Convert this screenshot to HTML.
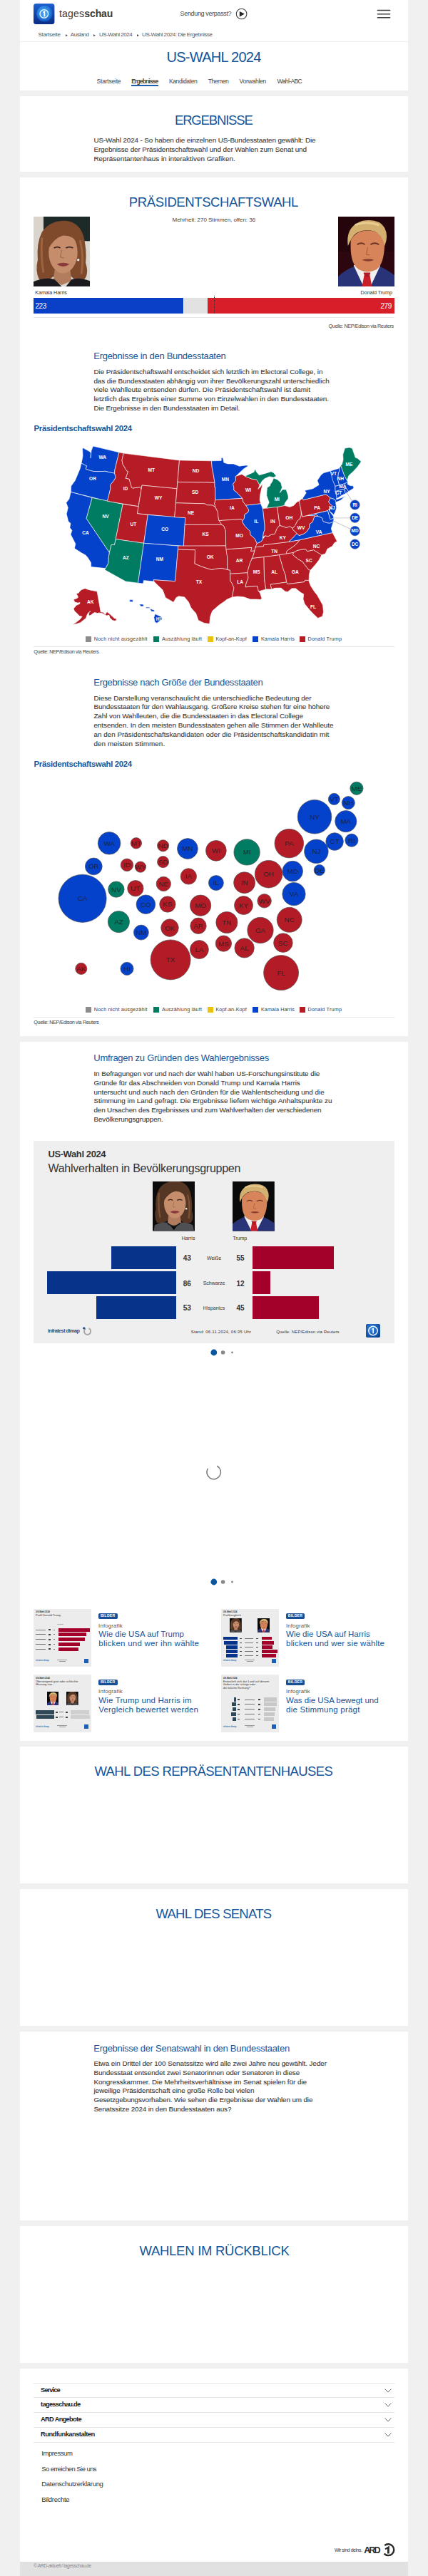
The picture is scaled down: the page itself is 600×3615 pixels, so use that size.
<!DOCTYPE html><html lang="de"><head><meta charset="utf-8"><title>US-Wahl 2024: Die Ergebnisse</title>
<style>html,body{margin:0;padding:0}body{width:600px;height:3615px;position:relative;overflow:hidden;background:#f0f0f0;font-family:"Liberation Sans",sans-serif}
.t{position:absolute;white-space:nowrap;line-height:1}.r{position:absolute}svg text{font-family:"Liberation Sans",sans-serif}</style></head><body>
<div class="r" style="left:28px;top:0px;width:544px;height:127px;background:#fff;"></div>
<div class="r" style="left:28px;top:135px;width:544px;height:106px;background:#fff;"></div>
<div class="r" style="left:28px;top:249px;width:544px;height:1205px;background:#fff;"></div>
<div class="r" style="left:28px;top:1462px;width:544px;height:981px;background:#fff;"></div>
<div class="r" style="left:28px;top:2451px;width:544px;height:192px;background:#fff;"></div>
<div class="r" style="left:28px;top:2651px;width:544px;height:192px;background:#fff;"></div>
<div class="r" style="left:28px;top:2851px;width:544px;height:265px;background:#fff;"></div>
<div class="r" style="left:28px;top:3124px;width:544px;height:192px;background:#fff;"></div>
<div class="r" style="left:28px;top:3324px;width:544px;height:271px;background:#fff;"></div>
<div class="r" style="left:28px;top:3595px;width:544px;height:20px;background:#e1e1e1;"></div>
<svg style="position:absolute;left:47.4px;top:5px" width="29.4" height="29" viewBox="0 0 29.4 29"><defs><linearGradient id="lg1" x1="0" y1="0" x2="0" y2="1"><stop offset="0" stop-color="#1d5fd0"/><stop offset="1" stop-color="#0a2c86"/></linearGradient><radialGradient id="rg1" cx="0.45" cy="0.4" r="0.6"><stop offset="0" stop-color="#4ab0f6"/><stop offset="0.6" stop-color="#2a82e0"/><stop offset="1" stop-color="#1552b8"/></radialGradient></defs><rect width="29.4" height="29" rx="3.6" fill="url(#lg1)"/><circle cx="15.5" cy="14.3" r="11.2" fill="url(#rg1)"/><circle cx="14.8" cy="14.4" r="5.8" fill="#3b9cf0" stroke="#f4f9ff" stroke-width="1.3"/><path d="M13.3,11.2 L16.3,10 L16.3,18.3 L14.4,18.3 L14.4,12.6 L13.1,13.1Z" fill="#fff"/></svg>
<div class="t" style="left:83.00px;top:12.15px;font-size:14px;color:#3a3a3a;letter-spacing:0.188px;">tages</div>
<div class="t" style="left:118.20px;top:12.15px;font-size:14px;color:#3a3a3a;font-weight:bold;letter-spacing:-0.066px;">schau</div>
<div class="t" style="left:252.60px;top:14.98px;font-size:9px;color:#4a4a4a;letter-spacing:-0.347px;">Sendung verpasst?</div>
<svg style="position:absolute;left:330px;top:11px" width="18" height="18" viewBox="0 0 18 18"><circle cx="8.6" cy="8.5" r="7.3" fill="none" stroke="#3a3a3a" stroke-width="1.05"/><path d="M5.8,4.9 L12.8,8.6 L5.8,12.4Z" fill="#222"/></svg>
<svg style="position:absolute;left:526px;top:10px" width="24" height="20" viewBox="0 0 24 20"><g stroke="#404040" stroke-width="1.5" stroke-linecap="round"><line x1="3.4" y1="4.5" x2="20.6" y2="4.5"/><line x1="3.4" y1="9.7" x2="20.6" y2="9.7"/><line x1="3.4" y1="14.8" x2="20.6" y2="14.8"/></g></svg>
<div class="t" style="left:53.40px;top:44.73px;font-size:8px;color:#555;letter-spacing:-0.244px;">Startseite</div>
<div class="t" style="left:98.80px;top:44.73px;font-size:8px;color:#555;letter-spacing:-0.469px;">Ausland</div>
<div class="t" style="left:138.90px;top:44.73px;font-size:8px;color:#555;letter-spacing:-0.439px;">US-Wahl 2024</div>
<div class="t" style="left:199.10px;top:44.73px;font-size:8px;color:#555;letter-spacing:-0.427px;">US-Wahl 2024: Die Ergebnisse</div>
<svg style="position:absolute;left:91.5px;top:47.9px" width="3" height="3.6" viewBox="0 0 3 3.6"><path d="M0,0 L2.8,1.8 L0,3.6Z" fill="#555"/></svg>
<svg style="position:absolute;left:131.3px;top:47.9px" width="3" height="3.6" viewBox="0 0 3 3.6"><path d="M0,0 L2.8,1.8 L0,3.6Z" fill="#555"/></svg>
<svg style="position:absolute;left:191.60000000000002px;top:47.9px" width="3" height="3.6" viewBox="0 0 3 3.6"><path d="M0,0 L2.8,1.8 L0,3.6Z" fill="#555"/></svg>
<div class="r" style="left:28px;top:58px;width:544px;height:1px;background:#eee;"></div>
<div class="t" style="left:233.50px;top:69.97px;font-size:20px;color:#14559b;letter-spacing:-0.727px;">US-WAHL 2024</div>
<div class="t" style="left:135.60px;top:109.62px;font-size:8.6px;color:#444;letter-spacing:-0.259px;">Startseite</div>
<div class="t" style="left:184.30px;top:109.62px;font-size:8.6px;color:#444;font-weight:bold;letter-spacing:-0.941px;">Ergebnisse</div>
<div class="t" style="left:236.90px;top:109.62px;font-size:8.6px;color:#444;letter-spacing:-0.391px;">Kandidaten</div>
<div class="t" style="left:291.80px;top:109.62px;font-size:8.6px;color:#444;letter-spacing:-0.510px;">Themen</div>
<div class="t" style="left:335.50px;top:109.62px;font-size:8.6px;color:#444;letter-spacing:-0.283px;">Vorwahlen</div>
<div class="t" style="left:388.50px;top:109.62px;font-size:8.6px;color:#444;letter-spacing:-0.646px;">Wahl-ABC</div>
<div class="r" style="left:184.3px;top:119.3px;width:37.89999999999998px;height:1.6px;background:#1f5fae;"></div>
<div class="t" style="left:245.00px;top:159.74px;font-size:18.5px;color:#14559b;letter-spacing:-1.166px;">ERGEBNISSE</div>
<div class="t" style="left:131.40px;top:191.72px;font-size:9.9px;color:#383838;letter-spacing:-0.112px;-webkit-text-stroke:0.1px #383838;">US-Wahl 2024 - So haben die einzelnen US-Bundesstaaten gewählt: Die</div>
<div class="t" style="left:131.40px;top:204.62px;font-size:9.9px;color:#383838;letter-spacing:-0.081px;-webkit-text-stroke:0.1px #383838;">Ergebnisse der Präsidentschaftswahl und der Wahlen zum Senat und</div>
<div class="t" style="left:131.40px;top:217.52px;font-size:9.9px;color:#383838;letter-spacing:0.005px;-webkit-text-stroke:0.1px #383838;">Repräsentantenhaus in interaktiven Grafiken.</div>
<div class="t" style="left:180.85px;top:274.54px;font-size:18.5px;color:#14559b;letter-spacing:-0.394px;">PRÄSIDENTSCHAFTSWAHL</div>
<div class="t" style="left:241.60px;top:304.93px;font-size:8px;color:#444;letter-spacing:-0.056px;">Mehrheit: 270 Stimmen, offen: 36</div>
<svg style="position:absolute;left:47px;top:304px" width="79" height="98" viewBox="0 0 80 100" preserveAspectRatio="none"><rect width="80" height="100" fill="#dcd9d2"/><rect x="14" y="0" width="66" height="35" fill="#1d2a28"/><rect x="0" y="0" width="14" height="100" fill="#d9d5cd"/><g transform="translate(0,0)">
<path d="M40,6 Q64,5 71,28 Q76,48 74,66 Q79,82 72,90 Q60,94 54,86 L28,86 Q18,94 8,90 Q2,78 6,62 Q4,38 12,22 Q22,7 40,6Z" fill="#7e4a2b"/>
<path d="M12,30 Q10,56 14,80 M66,34 Q72,56 68,82" stroke="#9c6440" stroke-width="3" fill="none"/>
<path d="M30,76 L52,76 L54,92 L40,98 L28,92Z" fill="#b27c5e"/></g>
<path d="M0,93 Q18,86 30,90 L40,100 L0,100Z" fill="#1a1a1e"/><path d="M80,92 Q64,86 54,90 L46,100 L80,100Z" fill="#1a1a1e"/><g transform="translate(0,0)">
<ellipse cx="42" cy="51" rx="20.5" ry="30" fill="#c68d6c"/>
<path d="M21,46 Q22,22 44,18 Q60,20 64,40 Q56,26 42,27 Q30,30 21,46Z" fill="#7e4a2b"/>
<path d="M29,45 Q34,42 38,45 M46,45 Q51,42 56,45" stroke="#3a2218" stroke-width="1.8" fill="none"/>
<path d="M40,48 L38,58 L43,59" stroke="#a06a50" stroke-width="1.2" fill="none"/>
<path d="M33,68 Q42,64 51,68 Q42,75 33,68Z" fill="#8a3a3a"/>
<circle cx="63.5" cy="62" r="1.7" fill="#eee"/></g>
</svg>
<svg style="position:absolute;left:474px;top:304px" width="79" height="98" viewBox="0 0 80 100" preserveAspectRatio="none"><rect width="80" height="100" fill="#2c0710"/><rect width="80" height="50" fill="#24050b"/>
<path d="M0,86 Q10,76 26,70 L40,80 L56,70 Q70,76 80,84 L80,100 L0,100Z" fill="#283477"/>
<path d="M22,70 L36,100 L46,100 L60,70 L52,66 L30,66Z" fill="#f0f0f0"/>
<path d="M37,84 L45,84 L48,100 L34,100Z" fill="#c81f2b"/><path d="M36,80 L46,80 L44,86 L38,86Z" fill="#b01a24"/>
<path d="M18,34 Q16,68 30,76 Q42,82 54,76 Q66,68 66,36 Q60,20 42,20 Q24,20 18,34Z" fill="#d8845a"/>
<path d="M14,42 Q10,14 34,6 Q58,2 66,16 Q72,28 66,42 Q62,22 46,20 Q28,18 20,30 Q16,36 14,42Z" fill="#d4b070"/>
<path d="M24,12 Q40,6 58,12" stroke="#e8cc90" stroke-width="3" fill="none"/>
<path d="M27,40 Q33,36 38,40 M46,40 Q52,36 58,40" stroke="#6a3422" stroke-width="1.8" fill="none"/>
<path d="M42,44 L40,54 L45,55" stroke="#b0603e" stroke-width="1.2" fill="none"/>
<path d="M34,62 Q43,59 51,62 Q43,66 34,62Z" fill="#8a4030"/>
</svg>
<div class="t" style="left:49.30px;top:406.71px;font-size:7.2px;color:#333;letter-spacing:-0.084px;">Kamala Harris</div>
<div class="t" style="left:505.60px;top:406.71px;font-size:7.2px;color:#333;letter-spacing:-0.075px;">Donald Trump</div>
<div class="r" style="left:47px;top:418px;width:209.7px;height:22px;background:#0a3fc8;"></div>
<div class="r" style="left:257.5px;top:418px;width:33px;height:22px;background:#e2e2e2;"></div>
<div class="r" style="left:290.6px;top:418px;width:262.4px;height:22px;background:#d81f29;"></div>
<div class="r" style="left:300px;top:415px;width:0;height:25px;border-left:1px dotted #333"></div>
<div class="t" style="left:49.60px;top:424.54px;font-size:10px;color:#fff;letter-spacing:-0.543px;">223</div>
<div class="t" style="left:533.50px;top:424.54px;font-size:10px;color:#fff;letter-spacing:-0.443px;">279</div>
<div class="r" style="left:47px;top:445px;width:506px;height:1px;background:#e8e8e8;"></div>
<div class="t" style="left:460.60px;top:454.01px;font-size:7.2px;color:#444;letter-spacing:-0.360px;">Quelle: NEP/Edison via Reuters</div>
<div class="t" style="left:131.30px;top:492.70px;font-size:13px;color:#14559b;letter-spacing:-0.297px;">Ergebnisse in den Bundesstaaten</div>
<div class="t" style="left:131.40px;top:516.82px;font-size:9.9px;color:#383838;letter-spacing:-0.037px;-webkit-text-stroke:0.1px #383838;">Die Präsidentschaftswahl entscheidet sich letztlich im Electoral College, in</div>
<div class="t" style="left:131.40px;top:529.52px;font-size:9.9px;color:#383838;letter-spacing:-0.055px;-webkit-text-stroke:0.1px #383838;">das die Bundesstaaten abhängig von ihrer Bevölkerungszahl unterschiedlich</div>
<div class="t" style="left:131.40px;top:542.22px;font-size:9.9px;color:#383838;letter-spacing:0.022px;-webkit-text-stroke:0.1px #383838;">viele Wahlleute entsenden dürfen. Die Präsidentschaftswahl ist damit</div>
<div class="t" style="left:131.40px;top:554.92px;font-size:9.9px;color:#383838;letter-spacing:-0.080px;-webkit-text-stroke:0.1px #383838;">letztlich das Ergebnis einer Summe von Einzelwahlen in den Bundesstaaten.</div>
<div class="t" style="left:131.40px;top:567.62px;font-size:9.9px;color:#383838;letter-spacing:-0.095px;-webkit-text-stroke:0.1px #383838;">Die Ergebnisse in den Bundesstaaten im Detail.</div>
<div class="t" style="left:47.60px;top:596.33px;font-size:11.3px;color:#14559b;font-weight:bold;letter-spacing:-0.286px;">Präsidentschaftswahl 2024</div>
<svg style="position:absolute;left:0;top:0" width="600" height="900" viewBox="0 0 600 900"><g stroke="#fff" stroke-width="0.6" stroke-linejoin="round"><path d="M116.2,628.4L125.0,633.3L127.4,635.6L127.0,642.8L128.0,632.6L130.4,626.0L166.9,634.8L160.8,659.9L160.6,664.2L146.6,661.2L145.1,661.5L135.7,661.7L130.7,661.4L125.3,660.0L120.1,658.1L121.5,653.8L118.3,652.3L114.0,650.0L115.4,643.6L116.0,639.6L115.6,630.1Z" fill="#0442cc"/><path d="M114.0,650.0L118.3,652.3L121.5,653.8L120.1,658.1L125.3,660.0L130.7,661.4L135.7,661.7L145.1,661.5L146.6,661.2L160.6,664.2L162.3,669.7L159.8,674.3L154.7,680.5L154.9,685.7L150.5,703.3L99.3,690.4L99.7,682.1L105.3,674.3L108.8,665.9L112.3,657.4Z" fill="#0442cc"/><path d="M99.3,690.4L129.2,698.5L121.1,727.6L153.4,775.4L152.3,782.3L151.9,790.4L148.0,797.6L127.7,795.6L127.5,789.7L123.2,782.7L119.9,778.9L114.6,776.1L104.4,769.6L105.8,763.2L99.1,750.1L100.9,744.3L97.9,740.4L98.9,734.4L95.7,731.4L93.2,721.3L95.3,712.4L92.8,705.4L96.9,700.3Z" fill="#0442cc"/><path d="M129.2,698.5L172.2,707.4L160.6,764.5L156.0,764.7L153.4,775.4L121.1,727.6Z" fill="#007c63"/><path d="M166.9,634.8L173.2,636.1L171.0,645.8L172.1,651.7L175.7,657.4L177.7,660.9L179.6,661.7L176.2,671.3L181.1,672.1L184.5,683.9L185.7,685.1L196.1,683.6L198.2,685.9L194.0,710.7L150.5,703.3L154.9,685.7L154.7,680.5L159.8,674.3L162.3,669.7L160.6,664.2L160.8,659.9Z" fill="#b51c25"/><path d="M173.2,636.1L251.5,645.9L248.1,685.8L199.0,681.0L198.2,685.9L196.1,683.6L185.7,685.1L184.5,683.9L181.1,672.1L176.2,671.3L179.6,661.7L177.7,660.9L175.7,657.4L172.1,651.7L171.0,645.8Z" fill="#b51c25"/><path d="M199.0,681.0L248.1,685.8L244.7,725.8L192.4,720.7Z" fill="#b51c25"/><path d="M172.2,707.4L194.0,710.7L192.4,720.7L207.3,722.5L201.6,762.3L162.2,756.6Z" fill="#b51c25"/><path d="M207.3,722.5L259.8,726.5L257.3,766.4L201.6,762.3Z" fill="#0442cc"/><path d="M162.2,756.6L201.6,762.3L193.5,818.2L176.2,816.0L146.7,799.6L148.0,797.6L151.9,790.4L152.3,782.3L153.4,775.4L156.0,764.7L160.6,764.5Z" fill="#007c63"/><path d="M201.6,762.3L249.7,766.1L249.4,771.1L245.6,815.7L215.2,813.7L215.9,816.0L201.4,814.6L200.8,819.0L193.5,818.2Z" fill="#0442cc"/><path d="M251.5,645.9L296.5,646.8L297.3,656.7L299.3,666.6L301.0,677.2L248.9,676.4Z" fill="#b51c25"/><path d="M248.9,676.4L301.0,677.2L301.0,683.6L301.8,683.6L301.9,701.6L300.8,706.6L301.9,711.7L297.8,709.0L290.5,708.8L286.9,706.8L246.4,705.8Z" fill="#b51c25"/><path d="M246.4,705.8L286.9,706.8L290.5,708.8L297.8,709.0L301.9,711.7L305.3,718.5L306.1,726.5L307.1,730.6L310.8,736.3L259.1,736.5L259.8,726.5L244.7,725.8Z" fill="#b51c25"/><path d="M259.1,736.5L310.8,736.3L313.9,738.2L316.4,745.1L316.7,766.0L257.4,766.4Z" fill="#b51c25"/><path d="M249.7,766.1L316.7,766.0L318.7,781.9L318.8,799.4L310.2,797.4L301.8,798.5L296.8,799.6L290.1,797.7L281.8,794.8L276.9,792.8L272.8,791.1L273.5,771.8L249.4,771.1Z" fill="#b51c25"/><path d="M249.4,771.1L273.5,771.8L272.8,791.1L276.9,792.8L281.8,794.8L290.1,797.7L296.8,799.6L301.8,798.5L310.2,797.4L318.8,799.4L322.5,800.1L322.6,805.3L323.0,815.5L325.1,818.2L328.0,825.0L326.5,832.0L325.5,837.9L317.9,841.3L315.3,843.4L306.5,849.6L297.5,857.6L294.7,865.5L293.7,875.2L296.0,875.7L286.3,874.4L278.1,870.5L274.7,860.7L267.8,852.9L264.5,845.0L258.7,837.9L250.8,836.7L247.1,838.5L243.1,845.2L239.7,843.1L232.0,838.7L229.9,832.7L227.8,827.6L219.8,820.1L215.9,816.0L215.2,813.7L245.6,815.7Z" fill="#b51c25"/><path d="M296.5,646.8L310.2,646.4L310.2,642.6L312.5,642.6L313.9,649.2L319.3,650.9L327.3,650.9L335.6,654.2L344.9,652.9L348.4,653.6L341.3,658.2L331.6,667.5L330.3,668.5L330.6,674.1L326.6,679.4L327.9,684.3L327.7,687.8L331.4,690.5L339.9,699.4L301.9,701.6L301.8,683.6L301.0,683.6L301.0,677.2L299.3,666.6L297.3,656.7Z" fill="#0442cc"/><path d="M301.9,701.6L339.9,699.4L340.9,704.3L344.6,709.0L348.8,715.6L347.9,718.7L342.9,722.2L342.4,727.3L340.2,730.7L338.0,728.6L307.1,730.6L306.1,726.5L305.3,718.5L301.9,711.7L300.8,706.6Z" fill="#b51c25"/><path d="M307.1,730.6L338.0,728.6L340.2,730.7L339.7,732.5L344.0,739.2L350.7,745.6L351.1,750.5L357.1,755.9L360.3,762.6L358.1,767.8L356.9,773.0L351.5,773.5L352.9,768.4L316.9,771.0L316.7,766.0L316.4,745.1L313.9,738.2L310.8,736.3Z" fill="#b51c25"/><path d="M316.9,771.0L352.9,768.4L351.5,773.5L356.9,773.0L354.3,782.2L350.7,789.5L348.0,798.7L346.9,803.8L322.6,805.3L322.5,800.1L318.8,799.4L318.7,781.9Z" fill="#b51c25"/><path d="M322.6,805.3L346.9,803.8L348.0,810.7L345.1,818.8L344.1,823.8L360.7,822.3L362.5,830.0L364.4,831.8L366.9,839.4L365.3,841.5L359.8,841.1L350.9,841.0L341.8,837.8L332.9,837.0L325.5,837.9L326.5,832.0L328.0,825.0L325.1,818.2L323.0,815.5Z" fill="#b51c25"/><path d="M370.0,781.5L352.8,783.4L354.3,782.2L350.7,789.5L348.0,798.7L346.9,803.8L348.0,810.7L345.1,818.8L344.1,823.8L360.7,822.3L362.5,830.0L372.8,826.9L370.5,812.3Z" fill="#b51c25"/><path d="M370.0,781.5L391.3,778.6L397.5,799.7L400.3,807.2L401.6,817.0L379.2,820.2L380.8,826.9L372.8,826.9L370.5,812.3Z" fill="#b51c25"/><path d="M391.3,778.6L411.7,775.2L410.5,778.5L417.4,784.3L424.0,788.1L431.9,798.6L434.9,800.5L433.4,806.3L433.1,814.4L427.7,814.4L426.4,816.7L403.2,819.7L401.6,817.0L400.3,807.2L397.5,799.7Z" fill="#b51c25"/><path d="M379.2,820.2L401.6,817.0L403.2,819.7L426.4,816.7L427.7,814.4L432.7,814.5L435.4,821.9L440.5,829.9L444.6,835.0L452.5,849.2L453.5,858.9L451.9,865.1L445.6,867.4L438.7,860.9L434.1,855.9L427.0,847.3L425.0,840.8L425.7,833.7L421.7,831.5L414.5,825.8L409.1,825.7L403.5,830.6L399.9,830.1L393.9,825.1L385.0,825.3L380.8,826.9Z" fill="#b51c25"/><path d="M411.7,775.2L417.0,772.2L428.5,770.5L430.7,773.6L439.6,771.7L450.9,778.7L446.9,786.3L442.1,792.4L437.8,797.3L434.9,800.5L431.9,798.6L424.0,788.1L417.4,784.3L410.5,778.5Z" fill="#b51c25"/><path d="M401.7,777.0L411.7,775.2L417.0,772.2L428.5,770.5L430.7,773.6L439.6,771.7L450.9,778.7L456.1,777.1L458.9,770.3L465.7,766.6L468.8,761.7L472.5,759.7L469.2,753.3L466.1,747.5L420.4,757.6L414.1,764.7L410.4,767.4L404.4,771.5L401.5,774.0Z" fill="#b51c25"/><path d="M352.8,783.4L370.0,781.5L391.3,778.6L401.7,777.0L401.5,774.0L404.4,771.5L410.4,767.4L414.1,764.7L420.4,757.6L404.5,760.4L369.4,764.7L369.7,766.5L358.1,767.8L356.9,773.0L354.3,782.2Z" fill="#b51c25"/><path d="M358.1,767.8L369.7,766.5L369.4,764.7L404.5,760.4L410.1,755.4L416.3,748.6L410.5,743.1L410.2,741.2L406.6,738.8L401.3,740.4L396.3,738.6L392.0,737.2L388.0,741.9L385.1,749.4L380.4,750.1L375.9,752.7L371.8,751.7L368.3,756.7L366.2,759.9L360.3,762.6Z" fill="#b51c25"/><path d="M404.5,760.4L420.4,757.6L466.1,747.5L464.3,741.8L465.9,736.8L467.5,731.9L462.7,734.0L459.4,733.8L453.2,731.8L451.7,727.1L447.6,725.0L445.9,724.2L440.8,724.6L438.1,732.4L433.9,735.4L433.7,740.5L429.6,746.5L425.3,749.4L419.2,751.6L416.3,748.6L410.1,755.4Z" fill="#0442cc"/><path d="M410.2,741.2L410.5,743.1L416.3,748.6L419.2,751.6L425.3,749.4L429.6,746.5L433.7,740.5L433.9,735.4L438.1,732.4L440.8,724.6L445.9,724.2L443.0,722.0L439.4,723.7L431.6,723.4L423.7,725.1L422.0,716.1L422.2,722.6L420.5,728.0L417.1,730.7L415.3,734.1L412.9,738.6Z" fill="#b51c25"/><path d="M419.5,703.0L422.0,716.1L422.2,722.6L420.5,728.0L417.1,730.7L415.3,734.1L412.9,738.6L410.2,741.2L406.6,738.8L401.3,740.4L396.3,738.6L392.0,737.2L388.5,711.5L398.4,709.5L401.9,710.2L406.0,711.5L411.7,709.4L416.1,704.5Z" fill="#b51c25"/><path d="M392.0,737.2L388.4,710.9L368.3,713.8L370.9,737.2L370.9,743.3L369.1,748.5L368.4,753.6L371.8,751.7L375.9,752.7L380.4,750.1L385.1,749.4L388.0,741.9Z" fill="#b51c25"/><path d="M368.3,713.8L365.5,706.7L344.6,709.0L348.8,715.6L347.9,718.7L342.9,722.2L342.4,727.3L340.2,730.7L339.7,732.5L344.0,739.2L350.7,745.6L351.1,750.5L357.1,755.9L360.3,762.6L366.2,759.9L368.3,756.7L368.4,753.6L369.1,748.5L370.9,743.3L370.9,737.2Z" fill="#0442cc"/><path d="M365.5,706.7L344.6,709.0L340.9,704.3L339.9,699.4L331.4,690.5L327.7,687.8L327.9,684.3L326.6,679.4L330.6,674.1L330.3,668.5L339.0,665.4L343.4,668.3L352.7,672.0L359.8,673.2L364.1,680.7L361.9,686.5L365.1,683.1L368.2,678.7L365.8,689.6L364.8,693.7L364.2,701.8Z" fill="#b51c25"/><path d="M388.5,711.5L398.4,709.5L399.7,705.6L404.0,699.7L404.0,695.7L401.1,687.1L396.0,687.0L392.3,691.7L395.5,684.0L393.7,677.3L388.8,673.0L383.5,670.9L382.0,675.2L379.0,679.7L378.6,681.7L374.6,684.3L373.9,690.5L373.8,695.5L377.2,705.1L373.6,713.1Z" fill="#007c63"/><path d="M343.4,668.3L352.7,672.0L359.8,673.2L364.1,680.7L367.1,675.3L370.9,671.8L377.6,668.8L383.3,669.9L387.3,668.2L383.9,663.8L380.1,661.8L373.4,663.9L363.3,666.8L359.4,662.2L357.6,657.9L356.0,662.6L349.4,665.4Z" fill="#007c63"/><path d="M419.5,703.0L423.7,725.1L459.3,716.7L461.1,715.0L463.7,712.6L466.2,709.9L462.2,706.8L460.7,704.1L463.2,698.8L459.2,695.3L456.8,693.8L425.0,701.6L424.4,699.0Z" fill="#b51c25"/><path d="M425.0,701.6L456.8,693.8L459.2,695.3L463.2,698.8L469.2,700.7L471.0,704.4L470.4,705.1L477.5,702.0L484.3,695.7L479.6,698.2L471.7,701.1L471.8,700.0L472.3,697.8L470.1,689.6L469.9,682.4L463.1,660.9L453.9,663.6L450.2,666.2L444.9,674.3L447.1,680.4L438.6,685.7L427.5,688.3L427.9,689.7L429.4,691.4L424.4,699.0Z" fill="#0442cc"/><path d="M463.1,660.9L475.7,657.1L476.3,659.1L474.3,664.9L473.6,672.5L475.6,680.9L469.9,682.4L466.6,674.5Z" fill="#0442cc"/><path d="M475.7,657.1L477.7,653.4L482.5,666.5L486.2,673.7L487.5,675.7L483.8,678.6L475.6,680.9L473.6,672.5L474.3,664.9L476.3,659.1Z" fill="#0442cc"/><path d="M477.7,653.4L479.3,651.9L481.1,645.0L480.7,637.8L483.5,629.0L489.7,627.9L493.7,629.1L498.3,642.2L501.3,643.2L506.3,647.7L501.3,654.9L495.8,661.0L488.8,667.6L486.9,673.5L486.2,673.7L482.5,666.5Z" fill="#007c63"/><path d="M470.1,689.6L482.3,686.2L485.3,685.3L488.6,689.7L492.1,687.5L496.0,685.1L495.0,681.8L491.0,681.6L487.2,679.6L487.5,675.7L483.8,678.6L475.6,680.9L469.9,682.4Z" fill="#0442cc"/><path d="M470.1,689.6L482.3,686.2L484.3,692.8L479.4,694.9L471.8,700.0L472.3,697.8Z" fill="#0442cc"/><path d="M482.3,686.2L485.3,685.3L488.6,689.7L484.3,692.8Z" fill="#0442cc"/><path d="M463.2,698.8L469.2,700.7L471.0,704.4L470.7,706.0L471.7,712.5L470.5,717.0L467.9,722.5L465.7,720.3L461.7,717.3L463.7,712.6L466.2,709.9L462.2,706.8L460.7,704.1Z" fill="#0442cc"/><path d="M459.3,716.7L461.1,715.0L461.7,717.3L467.1,724.1L468.0,727.5L463.0,728.8Z" fill="#0442cc"/><path d="M431.6,723.4L459.3,716.7L463.0,728.8L468.0,727.5L467.5,731.9L462.7,734.0L459.4,733.8L453.2,731.8L451.7,727.1L447.6,725.0L445.9,724.2L443.0,722.0L439.4,723.7Z" fill="#0442cc"/><path d="M136.1,830.0L141.2,858.9L144.5,859.3L147.6,862.2L150.0,858.6L154.3,862.0L160.7,868.0L162.5,867.7L163.4,870.4L160.8,871.3L157.8,870.6L153.9,866.8L152.9,863.1L149.7,863.9L143.5,860.8L139.0,859.9L136.7,860.6L132.6,859.4L129.6,861.3L127.3,863.3L124.4,864.0L124.8,859.2L127.1,857.6L123.3,860.5L121.7,863.7L120.5,867.5L116.4,870.8L112.7,873.7L107.1,875.6L103.3,876.3L100.8,877.2L106.5,873.6L112.3,868.9L115.1,865.3L111.1,864.3L108.3,861.0L104.8,857.9L103.8,856.1L103.2,853.7L105.5,851.6L106.3,849.8L111.6,847.4L112.1,845.5L109.0,846.1L104.8,845.0L103.2,841.3L108.2,839.5L109.5,837.8L107.8,834.6L106.9,833.3L110.1,832.2L111.6,829.9L114.1,827.7L119.1,825.7L123.8,827.4L127.0,828.2L131.5,829.1Z" fill="#b51c25"/><path d="M217.3,861.6L225.6,865.2L227.4,869.1L219.8,874.4L217.1,872.9L215.8,866.5Z" fill="#0442cc"/><path d="M210.0,854.1L216.4,856.2L216.4,858.2L212.2,858.1Z" fill="#0442cc"/><path d="M204.5,852.0L210.1,852.2L210.0,853.6L204.5,853.5Z" fill="#0442cc"/><path d="M195.4,847.9L200.9,848.0L201.3,851.0L197.2,850.9Z" fill="#0442cc"/><path d="M181.8,841.6L186.4,841.8L186.3,844.7L181.7,844.6Z" fill="#0442cc"/></g><line x1="484" y1="688" x2="493.5" y2="703" stroke="#999" stroke-width="0.6"/><circle cx="497.6" cy="708.5" r="6.8" fill="#0442cc" stroke="#8a8a8a" stroke-width="0.5"/><text x="497.6" y="710.8" font-size="6.4" font-weight="bold" fill="#fff" text-anchor="middle">RI</text><line x1="468.2" y1="727" x2="490.8" y2="726.8" stroke="#d0d0d0" stroke-width="1"/><circle cx="497.6" cy="726.8" r="6.8" fill="#0442cc" stroke="#8a8a8a" stroke-width="0.5"/><text x="497.6" y="729.0999999999999" font-size="6.4" font-weight="bold" fill="#fff" text-anchor="middle">DE</text><line x1="467" y1="730.9" x2="491.2" y2="742.3" stroke="#999" stroke-width="0.6"/><circle cx="497.6" cy="745.1" r="6.8" fill="#0442cc" stroke="#8a8a8a" stroke-width="0.5"/><text x="497.6" y="747.4" font-size="6.4" font-weight="bold" fill="#fff" text-anchor="middle">MD</text><circle cx="497.6" cy="763.6" r="6.8" fill="#0442cc" stroke="#8a8a8a" stroke-width="0.5"/><text x="497.6" y="765.9" font-size="6.4" font-weight="bold" fill="#fff" text-anchor="middle">DC</text><text x="143.7" y="643.6" font-size="6.6" font-weight="bold" fill="#fff" text-anchor="middle">WA</text><text x="130.0" y="674.1" font-size="6.6" font-weight="bold" fill="#fff" text-anchor="middle">OR</text><text x="176.0" y="688.1" font-size="6.6" font-weight="bold" fill="#fff" text-anchor="middle">ID</text><text x="148.0" y="727.0" font-size="6.6" font-weight="bold" fill="#fff" text-anchor="middle">NV</text><text x="119.9" y="749.8" font-size="6.6" font-weight="bold" fill="#fff" text-anchor="middle">CA</text><text x="186.8" y="738.2" font-size="6.6" font-weight="bold" fill="#fff" text-anchor="middle">UT</text><text x="212.2" y="662.2" font-size="6.6" font-weight="bold" fill="#fff" text-anchor="middle">MT</text><text x="274.6" y="662.9" font-size="6.6" font-weight="bold" fill="#fff" text-anchor="middle">ND</text><text x="316.0" y="675.1" font-size="6.6" font-weight="bold" fill="#fff" text-anchor="middle">MN</text><text x="273.6" y="692.7" font-size="6.6" font-weight="bold" fill="#fff" text-anchor="middle">SD</text><text x="222.0" y="701.4" font-size="6.6" font-weight="bold" fill="#fff" text-anchor="middle">WY</text><text x="267.6" y="721.8" font-size="6.6" font-weight="bold" fill="#fff" text-anchor="middle">NE</text><text x="325.4" y="714.7" font-size="6.6" font-weight="bold" fill="#fff" text-anchor="middle">IA</text><text x="231.2" y="745.4" font-size="6.6" font-weight="bold" fill="#fff" text-anchor="middle">CO</text><text x="288.2" y="751.9" font-size="6.6" font-weight="bold" fill="#fff" text-anchor="middle">KS</text><text x="348.0" y="689.9" font-size="6.6" font-weight="bold" fill="#fff" text-anchor="middle">WI</text><text x="388.3" y="703.2" font-size="6.6" font-weight="bold" fill="#fff" text-anchor="middle">MI</text><text x="458.2" y="691.6" font-size="6.6" font-weight="bold" fill="#fff" text-anchor="middle">NY</text><text x="444.7" y="715.2" font-size="6.6" font-weight="bold" fill="#fff" text-anchor="middle">PA</text><text x="359.3" y="733.7" font-size="6.6" font-weight="bold" fill="#fff" text-anchor="middle">IL</text><text x="382.4" y="734.0" font-size="6.6" font-weight="bold" fill="#fff" text-anchor="middle">IN</text><text x="405.2" y="728.8" font-size="6.6" font-weight="bold" fill="#fff" text-anchor="middle">OH</text><text x="422.0" y="742.9" font-size="6.6" font-weight="bold" fill="#fff" text-anchor="middle">WV</text><text x="447.1" y="748.7" font-size="6.6" font-weight="bold" fill="#fff" text-anchor="middle">VA</text><text x="396.4" y="756.5" font-size="6.6" font-weight="bold" fill="#fff" text-anchor="middle">KY</text><text x="335.6" y="753.7" font-size="6.6" font-weight="bold" fill="#fff" text-anchor="middle">MO</text><text x="465.5" y="715.4" font-size="6.6" font-weight="bold" fill="#fff" text-anchor="middle">NJ</text><text x="489.4" y="653.5" font-size="6.6" font-weight="bold" fill="#fff" text-anchor="middle">ME</text><text x="467.9" y="667.1" font-size="6.6" font-weight="bold" fill="#fff" text-anchor="middle">VT</text><text x="477.2" y="674.1" font-size="6.6" font-weight="bold" fill="#fff" text-anchor="middle">NH</text><text x="480.3" y="685.1" font-size="6.6" font-weight="bold" fill="#fff" text-anchor="middle">MA</text><text x="474.9" y="694.4" font-size="6.6" font-weight="bold" fill="#fff" text-anchor="middle">CT</text><text x="443.6" y="768.6" font-size="6.6" font-weight="bold" fill="#fff" text-anchor="middle">NC</text><text x="384.7" y="775.6" font-size="6.6" font-weight="bold" fill="#fff" text-anchor="middle">TN</text><text x="433.1" y="788.9" font-size="6.6" font-weight="bold" fill="#fff" text-anchor="middle">SC</text><text x="384.7" y="805.4" font-size="6.6" font-weight="bold" fill="#fff" text-anchor="middle">AL</text><text x="413.8" y="805.4" font-size="6.6" font-weight="bold" fill="#fff" text-anchor="middle">GA</text><text x="439.0" y="853.8" font-size="6.6" font-weight="bold" fill="#fff" text-anchor="middle">FL</text><text x="294.6" y="784.3" font-size="6.6" font-weight="bold" fill="#fff" text-anchor="middle">OK</text><text x="335.4" y="788.6" font-size="6.6" font-weight="bold" fill="#fff" text-anchor="middle">AR</text><text x="223.8" y="786.8" font-size="6.6" font-weight="bold" fill="#fff" text-anchor="middle">NM</text><text x="279.0" y="819.3" font-size="6.6" font-weight="bold" fill="#fff" text-anchor="middle">TX</text><text x="359.8" y="805.4" font-size="6.6" font-weight="bold" fill="#fff" text-anchor="middle">MS</text><text x="336.7" y="819.3" font-size="6.6" font-weight="bold" fill="#fff" text-anchor="middle">LA</text><text x="176.4" y="785.2" font-size="6.6" font-weight="bold" fill="#fff" text-anchor="middle">AZ</text><text x="126.7" y="846.5" font-size="6.6" font-weight="bold" fill="#fff" text-anchor="middle">AK</text><text x="222.0" y="871.3" font-size="6.6" font-weight="bold" fill="#fff" text-anchor="middle">HI</text></svg>
<div class="r" style="left:120.3px;top:893.1px;width:7.8px;height:7.6px;background:#8c8c8c;"></div>
<div class="t" style="left:131.80px;top:892.61px;font-size:7.2px;color:#444;letter-spacing:0.193px;">Noch nicht ausgezählt</div>
<div class="r" style="left:215.4px;top:893.1px;width:7.8px;height:7.6px;background:#007c63;"></div>
<div class="t" style="left:226.90px;top:892.61px;font-size:7.2px;color:#444;letter-spacing:0.191px;">Auszählung läuft</div>
<div class="r" style="left:291px;top:893.1px;width:7.8px;height:7.6px;background:#eac20a;"></div>
<div class="t" style="left:302.50px;top:892.61px;font-size:7.2px;color:#444;letter-spacing:0.070px;">Kopf-an-Kopf</div>
<div class="r" style="left:354.4px;top:893.1px;width:7.8px;height:7.6px;background:#0442cc;"></div>
<div class="t" style="left:365.90px;top:892.61px;font-size:7.2px;color:#444;letter-spacing:0.124px;">Kamala Harris</div>
<div class="r" style="left:420px;top:893.1px;width:7.8px;height:7.6px;background:#b51c25;"></div>
<div class="t" style="left:431.50px;top:892.61px;font-size:7.2px;color:#444;letter-spacing:0.207px;">Donald Trump</div>
<div class="r" style="left:47px;top:907px;width:506px;height:1px;background:#e8e8e8;"></div>
<div class="t" style="left:47.30px;top:911.21px;font-size:7.2px;color:#444;letter-spacing:-0.353px;">Quelle: NEP/Edison via Reuters</div>
<div class="t" style="left:131.30px;top:951.00px;font-size:13px;color:#14559b;letter-spacing:-0.335px;">Ergebnisse nach Größe der Bundesstaaten</div>
<div class="t" style="left:131.40px;top:974.52px;font-size:9.9px;color:#383838;letter-spacing:-0.025px;-webkit-text-stroke:0.1px #383838;">Diese Darstellung veranschaulicht die unterschiedliche Bedeutung der</div>
<div class="t" style="left:131.40px;top:987.32px;font-size:9.9px;color:#383838;letter-spacing:-0.082px;-webkit-text-stroke:0.1px #383838;">Bundesstaaten für den Wahlausgang. Größere Kreise stehen für eine höhere</div>
<div class="t" style="left:131.40px;top:1000.12px;font-size:9.9px;color:#383838;letter-spacing:-0.088px;-webkit-text-stroke:0.1px #383838;">Zahl von Wahlleuten, die die Bundesstaaten in das Electoral College</div>
<div class="t" style="left:131.40px;top:1012.92px;font-size:9.9px;color:#383838;letter-spacing:-0.031px;-webkit-text-stroke:0.1px #383838;">entsenden. In den meisten Bundesstaaten gehen alle Stimmen der Wahlleute</div>
<div class="t" style="left:131.40px;top:1025.72px;font-size:9.9px;color:#383838;letter-spacing:0.007px;-webkit-text-stroke:0.1px #383838;">an den Präsidentschaftskandidaten oder die Präsidentschaftskandidatin mit</div>
<div class="t" style="left:131.40px;top:1038.52px;font-size:9.9px;color:#383838;letter-spacing:0.079px;-webkit-text-stroke:0.1px #383838;">den meisten Stimmen.</div>
<div class="t" style="left:47.60px;top:1066.73px;font-size:11.3px;color:#14559b;font-weight:bold;letter-spacing:-0.286px;">Präsidentschaftswahl 2024</div>
<svg style="position:absolute;left:0;top:0" width="600" height="1450" viewBox="0 0 600 1450"><circle cx="153.1" cy="1183.3" r="15.8" fill="#0442cc" stroke="#555" stroke-width="0.7"/><circle cx="190.9" cy="1183.3" r="7.7" fill="#b31c26" stroke="#555" stroke-width="0.7"/><circle cx="131.3" cy="1215.9" r="11.9" fill="#0442cc" stroke="#555" stroke-width="0.7"/><circle cx="178" cy="1213.8" r="8.8" fill="#b31c26" stroke="#555" stroke-width="0.7"/><circle cx="196.9" cy="1216.6" r="7.7" fill="#b31c26" stroke="#555" stroke-width="0.7"/><circle cx="115.6" cy="1260.8" r="33.6" fill="#0442cc" stroke="#555" stroke-width="0.7"/><circle cx="162.9" cy="1248.1" r="11.2" fill="#007c63" stroke="#555" stroke-width="0.7"/><circle cx="189.9" cy="1246.7" r="11.2" fill="#b31c26" stroke="#555" stroke-width="0.7"/><circle cx="204.4" cy="1269.2" r="13.3" fill="#0442cc" stroke="#555" stroke-width="0.7"/><circle cx="166.4" cy="1293.6" r="15.1" fill="#007c63" stroke="#555" stroke-width="0.7"/><circle cx="228.6" cy="1186.8" r="8.1" fill="#b31c26" stroke="#555" stroke-width="0.7"/><circle cx="228.6" cy="1209.6" r="8.1" fill="#b31c26" stroke="#555" stroke-width="0.7"/><circle cx="262.9" cy="1191" r="14.4" fill="#0442cc" stroke="#555" stroke-width="0.7"/><circle cx="302.9" cy="1193.8" r="14.4" fill="#b31c26" stroke="#555" stroke-width="0.7"/><circle cx="229.3" cy="1240.4" r="10.2" fill="#b31c26" stroke="#555" stroke-width="0.7"/><circle cx="264.3" cy="1229.9" r="11.2" fill="#b31c26" stroke="#555" stroke-width="0.7"/><circle cx="302.9" cy="1239" r="10.5" fill="#0442cc" stroke="#555" stroke-width="0.7"/><circle cx="234.9" cy="1269" r="11.2" fill="#b31c26" stroke="#555" stroke-width="0.7"/><circle cx="281.1" cy="1270.7" r="14.7" fill="#b31c26" stroke="#555" stroke-width="0.7"/><circle cx="317.9" cy="1294.5" r="15.1" fill="#b31c26" stroke="#555" stroke-width="0.7"/><circle cx="278" cy="1299.3" r="11.2" fill="#b31c26" stroke="#555" stroke-width="0.7"/><circle cx="238" cy="1302.1" r="12.3" fill="#b31c26" stroke="#555" stroke-width="0.7"/><circle cx="197.9" cy="1308.6" r="10.5" fill="#0442cc" stroke="#555" stroke-width="0.7"/><circle cx="113.8" cy="1359.4" r="8.1" fill="#b31c26" stroke="#555" stroke-width="0.7"/><circle cx="178" cy="1359.4" r="9.1" fill="#0442cc" stroke="#555" stroke-width="0.7"/><circle cx="239.1" cy="1346.9" r="28" fill="#b31c26" stroke="#555" stroke-width="0.7"/><circle cx="279.4" cy="1332.6" r="13" fill="#b31c26" stroke="#555" stroke-width="0.7"/><circle cx="313.4" cy="1324.1" r="11.2" fill="#b31c26" stroke="#555" stroke-width="0.7"/><circle cx="346.1" cy="1195.9" r="18.2" fill="#007c63" stroke="#555" stroke-width="0.7"/><circle cx="405.3" cy="1183.6" r="20.3" fill="#b31c26" stroke="#555" stroke-width="0.7"/><circle cx="441" cy="1146.2" r="23.8" fill="#0442cc" stroke="#555" stroke-width="0.7"/><circle cx="443.4" cy="1194.8" r="16.8" fill="#0442cc" stroke="#555" stroke-width="0.7"/><circle cx="447.8" cy="1221.1" r="7.7" fill="#0442cc" stroke="#555" stroke-width="0.7"/><circle cx="410.2" cy="1222.6" r="14.3" fill="#0442cc" stroke="#555" stroke-width="0.7"/><circle cx="376.6" cy="1226.7" r="19.3" fill="#b31c26" stroke="#555" stroke-width="0.7"/><circle cx="342.6" cy="1238.7" r="15" fill="#b31c26" stroke="#555" stroke-width="0.7"/><circle cx="412" cy="1254.6" r="16.2" fill="#0442cc" stroke="#555" stroke-width="0.7"/><circle cx="370.6" cy="1264.3" r="9.8" fill="#b31c26" stroke="#555" stroke-width="0.7"/><circle cx="341.5" cy="1270.5" r="13" fill="#b31c26" stroke="#555" stroke-width="0.7"/><circle cx="405.7" cy="1290.8" r="17.5" fill="#b31c26" stroke="#555" stroke-width="0.7"/><circle cx="365" cy="1305.5" r="18.2" fill="#b31c26" stroke="#555" stroke-width="0.7"/><circle cx="396.9" cy="1323.1" r="13.3" fill="#b31c26" stroke="#555" stroke-width="0.7"/><circle cx="342.6" cy="1330.4" r="13.7" fill="#b31c26" stroke="#555" stroke-width="0.7"/><circle cx="394.1" cy="1365.1" r="24.5" fill="#b31c26" stroke="#555" stroke-width="0.7"/><circle cx="499.9" cy="1106.3" r="9.1" fill="#007c63" stroke="#555" stroke-width="0.7"/><circle cx="468.4" cy="1121.4" r="8.1" fill="#0442cc" stroke="#555" stroke-width="0.7"/><circle cx="488.3" cy="1126.6" r="9.1" fill="#0442cc" stroke="#555" stroke-width="0.7"/><circle cx="484.8" cy="1152.6" r="15.1" fill="#0442cc" stroke="#555" stroke-width="0.7"/><circle cx="469.1" cy="1181" r="12.3" fill="#0442cc" stroke="#555" stroke-width="0.7"/><circle cx="492.9" cy="1179.2" r="9.1" fill="#0442cc" stroke="#555" stroke-width="0.7"/><text x="153.1" y="1186.7" font-size="9.8" fill="#1e1e1e" fill-opacity="0.88" text-anchor="middle">WA</text><text x="190.9" y="1186.7" font-size="9.8" fill="#1e1e1e" fill-opacity="0.88" text-anchor="middle">MT</text><text x="131.3" y="1219.3" font-size="9.8" fill="#1e1e1e" fill-opacity="0.88" text-anchor="middle">OR</text><text x="178" y="1217.2" font-size="9.8" fill="#1e1e1e" fill-opacity="0.88" text-anchor="middle">ID</text><text x="196.9" y="1220.0" font-size="9.8" fill="#1e1e1e" fill-opacity="0.88" text-anchor="middle">WY</text><text x="115.6" y="1264.2" font-size="9.8" fill="#1e1e1e" fill-opacity="0.88" text-anchor="middle">CA</text><text x="162.9" y="1251.5" font-size="9.8" fill="#1e1e1e" fill-opacity="0.88" text-anchor="middle">NV</text><text x="189.9" y="1250.1" font-size="9.8" fill="#1e1e1e" fill-opacity="0.88" text-anchor="middle">UT</text><text x="204.4" y="1272.6" font-size="9.8" fill="#1e1e1e" fill-opacity="0.88" text-anchor="middle">CO</text><text x="166.4" y="1297.0" font-size="9.8" fill="#1e1e1e" fill-opacity="0.88" text-anchor="middle">AZ</text><text x="228.6" y="1190.2" font-size="9.8" fill="#1e1e1e" fill-opacity="0.88" text-anchor="middle">ND</text><text x="228.6" y="1213.0" font-size="9.8" fill="#1e1e1e" fill-opacity="0.88" text-anchor="middle">SD</text><text x="262.9" y="1194.4" font-size="9.8" fill="#1e1e1e" fill-opacity="0.88" text-anchor="middle">MN</text><text x="302.9" y="1197.2" font-size="9.8" fill="#1e1e1e" fill-opacity="0.88" text-anchor="middle">WI</text><text x="229.3" y="1243.8" font-size="9.8" fill="#1e1e1e" fill-opacity="0.88" text-anchor="middle">NE</text><text x="264.3" y="1233.3" font-size="9.8" fill="#1e1e1e" fill-opacity="0.88" text-anchor="middle">IA</text><text x="302.9" y="1242.4" font-size="9.8" fill="#1e1e1e" fill-opacity="0.88" text-anchor="middle">IL</text><text x="234.9" y="1272.4" font-size="9.8" fill="#1e1e1e" fill-opacity="0.88" text-anchor="middle">KS</text><text x="281.1" y="1274.1" font-size="9.8" fill="#1e1e1e" fill-opacity="0.88" text-anchor="middle">MO</text><text x="317.9" y="1297.9" font-size="9.8" fill="#1e1e1e" fill-opacity="0.88" text-anchor="middle">TN</text><text x="278" y="1302.7" font-size="9.8" fill="#1e1e1e" fill-opacity="0.88" text-anchor="middle">AR</text><text x="238" y="1305.5" font-size="9.8" fill="#1e1e1e" fill-opacity="0.88" text-anchor="middle">OK</text><text x="197.9" y="1312.0" font-size="9.8" fill="#1e1e1e" fill-opacity="0.88" text-anchor="middle">NM</text><text x="113.8" y="1362.8" font-size="9.8" fill="#1e1e1e" fill-opacity="0.88" text-anchor="middle">AK</text><text x="178" y="1362.8" font-size="9.8" fill="#1e1e1e" fill-opacity="0.88" text-anchor="middle">HI</text><text x="239.1" y="1350.3" font-size="9.8" fill="#1e1e1e" fill-opacity="0.88" text-anchor="middle">TX</text><text x="279.4" y="1336.0" font-size="9.8" fill="#1e1e1e" fill-opacity="0.88" text-anchor="middle">LA</text><text x="313.4" y="1327.5" font-size="9.8" fill="#1e1e1e" fill-opacity="0.88" text-anchor="middle">MS</text><text x="346.1" y="1199.3" font-size="9.8" fill="#1e1e1e" fill-opacity="0.88" text-anchor="middle">MI</text><text x="405.3" y="1187.0" font-size="9.8" fill="#1e1e1e" fill-opacity="0.88" text-anchor="middle">PA</text><text x="441" y="1149.6" font-size="9.8" fill="#1e1e1e" fill-opacity="0.88" text-anchor="middle">NY</text><text x="443.4" y="1198.2" font-size="9.8" fill="#1e1e1e" fill-opacity="0.88" text-anchor="middle">NJ</text><text x="447.8" y="1224.5" font-size="9.8" fill="#1e1e1e" fill-opacity="0.88" text-anchor="middle">DE</text><text x="410.2" y="1226.0" font-size="9.8" fill="#1e1e1e" fill-opacity="0.88" text-anchor="middle">MD</text><text x="376.6" y="1230.1" font-size="9.8" fill="#1e1e1e" fill-opacity="0.88" text-anchor="middle">OH</text><text x="342.6" y="1242.1" font-size="9.8" fill="#1e1e1e" fill-opacity="0.88" text-anchor="middle">IN</text><text x="412" y="1258.0" font-size="9.8" fill="#1e1e1e" fill-opacity="0.88" text-anchor="middle">VA</text><text x="370.6" y="1267.7" font-size="9.8" fill="#1e1e1e" fill-opacity="0.88" text-anchor="middle">WV</text><text x="341.5" y="1273.9" font-size="9.8" fill="#1e1e1e" fill-opacity="0.88" text-anchor="middle">KY</text><text x="405.7" y="1294.2" font-size="9.8" fill="#1e1e1e" fill-opacity="0.88" text-anchor="middle">NC</text><text x="365" y="1308.9" font-size="9.8" fill="#1e1e1e" fill-opacity="0.88" text-anchor="middle">GA</text><text x="396.9" y="1326.5" font-size="9.8" fill="#1e1e1e" fill-opacity="0.88" text-anchor="middle">SC</text><text x="342.6" y="1333.8" font-size="9.8" fill="#1e1e1e" fill-opacity="0.88" text-anchor="middle">AL</text><text x="394.1" y="1368.5" font-size="9.8" fill="#1e1e1e" fill-opacity="0.88" text-anchor="middle">FL</text><text x="499.9" y="1109.7" font-size="9.8" fill="#1e1e1e" fill-opacity="0.88" text-anchor="middle">ME</text><text x="468.4" y="1124.8" font-size="9.8" fill="#1e1e1e" fill-opacity="0.88" text-anchor="middle">VT</text><text x="488.3" y="1130.0" font-size="9.8" fill="#1e1e1e" fill-opacity="0.88" text-anchor="middle">NH</text><text x="484.8" y="1156.0" font-size="9.8" fill="#1e1e1e" fill-opacity="0.88" text-anchor="middle">MA</text><text x="469.1" y="1184.4" font-size="9.8" fill="#1e1e1e" fill-opacity="0.88" text-anchor="middle">CT</text><text x="492.9" y="1182.6" font-size="9.8" fill="#1e1e1e" fill-opacity="0.88" text-anchor="middle">RI</text></svg>
<div class="r" style="left:120.3px;top:1413.1999999999998px;width:7.8px;height:7.6px;background:#8c8c8c;"></div>
<div class="t" style="left:131.80px;top:1412.71px;font-size:7.2px;color:#444;letter-spacing:0.193px;">Noch nicht ausgezählt</div>
<div class="r" style="left:215.4px;top:1413.1999999999998px;width:7.8px;height:7.6px;background:#007c63;"></div>
<div class="t" style="left:226.90px;top:1412.71px;font-size:7.2px;color:#444;letter-spacing:0.191px;">Auszählung läuft</div>
<div class="r" style="left:291px;top:1413.1999999999998px;width:7.8px;height:7.6px;background:#eac20a;"></div>
<div class="t" style="left:302.50px;top:1412.71px;font-size:7.2px;color:#444;letter-spacing:0.070px;">Kopf-an-Kopf</div>
<div class="r" style="left:354.4px;top:1413.1999999999998px;width:7.8px;height:7.6px;background:#0442cc;"></div>
<div class="t" style="left:365.90px;top:1412.71px;font-size:7.2px;color:#444;letter-spacing:0.124px;">Kamala Harris</div>
<div class="r" style="left:420px;top:1413.1999999999998px;width:7.8px;height:7.6px;background:#b51c25;"></div>
<div class="t" style="left:431.50px;top:1412.71px;font-size:7.2px;color:#444;letter-spacing:0.207px;">Donald Trump</div>
<div class="r" style="left:47px;top:1427px;width:506px;height:1px;background:#e8e8e8;"></div>
<div class="t" style="left:47.30px;top:1431.11px;font-size:7.2px;color:#444;letter-spacing:-0.353px;">Quelle: NEP/Edison via Reuters</div>
<div class="t" style="left:131.30px;top:1478.00px;font-size:13px;color:#14559b;letter-spacing:-0.264px;">Umfragen zu Gründen des Wahlergebnisses</div>
<div class="t" style="left:131.40px;top:1502.02px;font-size:9.9px;color:#383838;letter-spacing:-0.057px;-webkit-text-stroke:0.1px #383838;">In Befragungen vor und nach der Wahl haben US-Forschungsinstitute die</div>
<div class="t" style="left:131.40px;top:1514.82px;font-size:9.9px;color:#383838;letter-spacing:-0.063px;-webkit-text-stroke:0.1px #383838;">Gründe für das Abschneiden von Donald Trump und Kamala Harris</div>
<div class="t" style="left:131.40px;top:1527.62px;font-size:9.9px;color:#383838;letter-spacing:0.006px;-webkit-text-stroke:0.1px #383838;">untersucht und auch nach den Gründen für die Wahlentscheidung und die</div>
<div class="t" style="left:131.40px;top:1540.42px;font-size:9.9px;color:#383838;letter-spacing:-0.003px;-webkit-text-stroke:0.1px #383838;">Stimmung im Land gefragt. Die Ergebnisse liefern wichtige Anhaltspunkte zu</div>
<div class="t" style="left:131.40px;top:1553.22px;font-size:9.9px;color:#383838;letter-spacing:-0.122px;-webkit-text-stroke:0.1px #383838;">den Ursachen des Ergebnisses und zum Wahlverhalten der verschiedenen</div>
<div class="t" style="left:131.40px;top:1566.02px;font-size:9.9px;color:#383838;letter-spacing:-0.077px;-webkit-text-stroke:0.1px #383838;">Bevölkerungsgruppen.</div>
<div class="r" style="left:47px;top:1601px;width:506px;height:283.5px;background:#efefef;"></div>
<div class="t" style="left:67.40px;top:1613.20px;font-size:13px;color:#333;font-weight:bold;letter-spacing:-0.390px;">US-Wahl 2024</div>
<div class="t" style="left:67.40px;top:1632.36px;font-size:16px;color:#333;letter-spacing:-0.248px;">Wahlverhalten in Bevölkerungsgruppen</div>
<svg style="position:absolute;left:214px;top:1658px" width="59.4" height="69.6" viewBox="0 0 80 100" preserveAspectRatio="none"><rect width="80" height="100" fill="#0c0c0c"/><g transform="translate(0,-7)">
<path d="M40,6 Q64,5 71,28 Q76,48 74,66 Q79,82 72,90 Q60,94 54,86 L28,86 Q18,94 8,90 Q2,78 6,62 Q4,38 12,22 Q22,7 40,6Z" fill="#553624"/>
<path d="M12,30 Q10,56 14,80 M66,34 Q72,56 68,82" stroke="#7a5236" stroke-width="3" fill="none"/>
<path d="M30,76 L52,76 L54,92 L40,98 L28,92Z" fill="#b27c5e"/></g>
<path d="M2,100 L4,88 Q20,80 30,84 L40,98 L50,84 Q60,80 76,88 L78,100Z" fill="#4e5054"/><path d="M28,84 Q40,96 52,84" stroke="#1a1a1a" stroke-width="2.5" fill="none"/><g transform="translate(0,-7)">
<ellipse cx="42" cy="51" rx="20.5" ry="30" fill="#c68d6c"/>
<path d="M21,46 Q22,22 44,18 Q60,20 64,40 Q56,26 42,27 Q30,30 21,46Z" fill="#553624"/>
<path d="M29,45 Q34,42 38,45 M46,45 Q51,42 56,45" stroke="#3a2218" stroke-width="1.8" fill="none"/>
<path d="M40,48 L38,58 L43,59" stroke="#a06a50" stroke-width="1.2" fill="none"/>
<path d="M33,68 Q42,64 51,68 Q42,75 33,68Z" fill="#8a3a3a"/>
<circle cx="63.5" cy="62" r="1.7" fill="#eee"/></g>
</svg>
<svg style="position:absolute;left:326.2px;top:1658px" width="58.8" height="69.6" viewBox="0 0 80 100" preserveAspectRatio="none"><rect width="80" height="100" fill="#0a0a0a"/>
<path d="M0,86 Q10,76 26,70 L40,80 L56,70 Q70,76 80,84 L80,100 L0,100Z" fill="#283477"/>
<path d="M22,70 L36,100 L46,100 L60,70 L52,66 L30,66Z" fill="#f0f0f0"/>
<path d="M37,84 L45,84 L48,100 L34,100Z" fill="#c81f2b"/><path d="M36,80 L46,80 L44,86 L38,86Z" fill="#b01a24"/>
<path d="M18,34 Q16,68 30,76 Q42,82 54,76 Q66,68 66,36 Q60,20 42,20 Q24,20 18,34Z" fill="#d8845a"/>
<path d="M14,42 Q10,14 34,6 Q58,2 66,16 Q72,28 66,42 Q62,22 46,20 Q28,18 20,30 Q16,36 14,42Z" fill="#d4b070"/>
<path d="M24,12 Q40,6 58,12" stroke="#e8cc90" stroke-width="3" fill="none"/>
<path d="M27,40 Q33,36 38,40 M46,40 Q52,36 58,40" stroke="#6a3422" stroke-width="1.8" fill="none"/>
<path d="M42,44 L40,54 L45,55" stroke="#b0603e" stroke-width="1.2" fill="none"/>
<path d="M34,62 Q43,59 51,62 Q43,66 34,62Z" fill="#8a4030"/>
</svg>
<div class="t" style="left:254.73px;top:1734.07px;font-size:7px;color:#333;">Harris</div>
<div class="t" style="left:326.20px;top:1734.07px;font-size:7px;color:#333;">Trump</div>
<div class="r" style="left:156.3px;top:1749px;width:90.3px;height:31.7px;background:#07348a;"></div>
<div class="r" style="left:353.6px;top:1749px;width:114.4px;height:31.7px;background:#a3002a;"></div>
<div class="t" style="left:256.74px;top:1761.34px;font-size:10px;color:#333;font-weight:bold;">43</div>
<div class="t" style="left:289.95px;top:1762.07px;font-size:7px;color:#333;">Weiße</div>
<div class="t" style="left:331.44px;top:1761.34px;font-size:10px;color:#333;font-weight:bold;">55</div>
<div class="r" style="left:66.0px;top:1784.3px;width:180.6px;height:31.7px;background:#07348a;"></div>
<div class="r" style="left:353.6px;top:1784.3px;width:24.96px;height:31.7px;background:#a3002a;"></div>
<div class="t" style="left:256.74px;top:1796.63px;font-size:10px;color:#333;font-weight:bold;">86</div>
<div class="t" style="left:284.63px;top:1797.37px;font-size:7px;color:#333;">Schwarze</div>
<div class="t" style="left:331.44px;top:1796.63px;font-size:10px;color:#333;font-weight:bold;">12</div>
<div class="r" style="left:135.29999999999998px;top:1819px;width:111.30000000000001px;height:31.7px;background:#07348a;"></div>
<div class="r" style="left:353.6px;top:1819px;width:93.60000000000001px;height:31.7px;background:#a3002a;"></div>
<div class="t" style="left:256.74px;top:1831.34px;font-size:10px;color:#333;font-weight:bold;">53</div>
<div class="t" style="left:284.83px;top:1832.07px;font-size:7px;color:#333;">Hispanics</div>
<div class="t" style="left:331.44px;top:1831.34px;font-size:10px;color:#333;font-weight:bold;">45</div>
<div class="t" style="left:67.00px;top:1863.71px;font-size:7.2px;color:#1d4d85;font-weight:bold;letter-spacing:-0.479px;">infratest dimap</div>
<svg style="position:absolute;left:115px;top:1862px" width="14" height="13" viewBox="0 0 14 13"><path d="M5.2,2.4 A4.6,4.6 0 1 0 9.6,2.2" stroke="#a8a8a8" stroke-width="2" fill="none"/><rect x="1.2" y="0.6" width="3" height="2.6" fill="#1d4d85"/></svg>
<div class="t" style="left:267.70px;top:1865.92px;font-size:6px;color:#333;letter-spacing:0.223px;">Stand: 06.11.2024, 06:35 Uhr</div>
<div class="t" style="left:387.30px;top:1865.92px;font-size:6px;color:#333;letter-spacing:0.109px;">Quelle: NEP/Edison via Reuters</div>
<div class="r" style="left:513px;top:1858px;width:20px;height:19px;border-radius:2px;background:radial-gradient(circle at 40% 35%,#3d8ce0 0%,#1c5fb8 45%,#0b3a86 100%)"><svg width="20" height="19" viewBox="0 0 20 19" style="position:absolute;left:0;top:0"><circle cx="10" cy="9.5" r="6.2" fill="none" stroke="#e8f2ff" stroke-width="1.5"/><path d="M8.6,6.4 L11,5.5 L11,13.3 L9.4,13.3 L9.4,7.6 L8.2,8.1Z" fill="#fff"/></svg></div>
<svg style="position:absolute;left:290px;top:1891.6px" width="40" height="12" viewBox="0 0 40 12"><circle cx="9.8" cy="6" r="4.4" fill="#0b57a0"/><circle cx="22.6" cy="6" r="2.8" fill="#888"/><circle cx="35.5" cy="6" r="1.4" fill="#888"/></svg>
<svg style="position:absolute;left:285px;top:2051px" width="30" height="30" viewBox="0 0 30 30"><circle cx="14.7" cy="14.9" r="9.8" fill="none" stroke="#777" stroke-width="1.5" stroke-linecap="round" stroke-dasharray="45.3 16.3" transform="rotate(-59 14.7 14.9)"/></svg>
<svg style="position:absolute;left:290px;top:2214.3px" width="40" height="12" viewBox="0 0 40 12"><circle cx="9.8" cy="6" r="4.4" fill="#0b57a0"/><circle cx="22.6" cy="6" r="2.8" fill="#888"/><circle cx="35.5" cy="6" r="1.4" fill="#888"/></svg>
<div class="r" style="left:47px;top:2257.6px;width:81px;height:81px;background:#ececec;"></div>
<div class="t" style="left:50.00px;top:2261.06px;font-size:3px;color:#333;font-weight:bold;">US-Wahl 2024</div>
<div class="t" style="left:50.00px;top:2264.71px;font-size:4px;color:#333;">Profil Donald Trump</div>
<div class="t" style="left:50.00px;top:2330.40px;font-size:2.6px;color:#2a6fb0;font-weight:bold;">infratest dimap</div>
<div class="r" style="left:118px;top:2327.6px;width:6px;height:6px;background:#1c5fb8;"></div>
<div class="r" style="left:80px;top:2328.6px;width:14px;height:1px;background:#999;"></div>
<div class="r" style="left:83px;top:2330.6px;width:9px;height:1px;background:#999;"></div>
<div class="t" style="left:80.00px;top:2279.48px;font-size:2.5px;color:#555;">Im 2024</div>
<div class="r" style="left:81.5px;top:2284.5px;width:44.3px;height:5px;background:#a3002a;"></div>
<div class="r" style="left:50px;top:2286.5px;width:14px;height:1px;background:#777;"></div>
<div class="r" style="left:68px;top:2286.0px;width:3px;height:2px;background:#444;"></div>
<div class="r" style="left:74.5px;top:2286.5px;width:2px;height:1px;background:#777;"></div>
<div class="r" style="left:81.5px;top:2291.35px;width:39.2px;height:5px;background:#a3002a;"></div>
<div class="r" style="left:50px;top:2293.35px;width:14px;height:1px;background:#777;"></div>
<div class="r" style="left:68px;top:2292.85px;width:3px;height:2px;background:#444;"></div>
<div class="r" style="left:74.5px;top:2293.35px;width:2px;height:1px;background:#777;"></div>
<div class="r" style="left:81.5px;top:2298.2px;width:37px;height:5px;background:#a3002a;"></div>
<div class="r" style="left:50px;top:2300.2px;width:14px;height:1px;background:#777;"></div>
<div class="r" style="left:68px;top:2299.7px;width:3px;height:2px;background:#444;"></div>
<div class="r" style="left:74.5px;top:2300.2px;width:2px;height:1px;background:#777;"></div>
<div class="r" style="left:81.5px;top:2305.05px;width:30.8px;height:5px;background:#a3002a;"></div>
<div class="r" style="left:50px;top:2307.05px;width:14px;height:1px;background:#777;"></div>
<div class="r" style="left:68px;top:2306.55px;width:3px;height:2px;background:#444;"></div>
<div class="r" style="left:74.5px;top:2307.05px;width:2px;height:1px;background:#777;"></div>
<div class="r" style="left:81.5px;top:2311.9px;width:28.5px;height:5px;background:#a3002a;"></div>
<div class="r" style="left:50px;top:2313.9px;width:14px;height:1px;background:#777;"></div>
<div class="r" style="left:68px;top:2313.4px;width:3px;height:2px;background:#444;"></div>
<div class="r" style="left:74.5px;top:2313.9px;width:2px;height:1px;background:#777;"></div>
<div class="r" style="left:138.1px;top:2263.7px;width:26.6px;height:8.8px;background:#1a4f96;border-radius:1.8px;"></div>
<div class="t" style="left:140.90px;top:2265.48px;font-size:5.1px;color:#fff;font-weight:bold;letter-spacing:0.263px;">BILDER</div>
<div class="t" style="left:138.10px;top:2277.60px;font-size:7.8px;color:#555;letter-spacing:0.168px;">Infografik</div>
<div class="t" style="left:138.30px;top:2287.97px;font-size:11.5px;color:#14559b;letter-spacing:0.009px;">Wie die USA auf Trump</div>
<div class="t" style="left:138.30px;top:2301.27px;font-size:11.5px;color:#14559b;letter-spacing:0.233px;">blicken und wer ihn wählte</div>
<div class="r" style="left:309.8px;top:2257.6px;width:81px;height:81px;background:#ececec;"></div>
<div class="t" style="left:312.80px;top:2261.06px;font-size:3px;color:#333;font-weight:bold;">US-Wahl 2024</div>
<div class="t" style="left:312.80px;top:2264.71px;font-size:4px;color:#333;">Profilvergleich</div>
<div class="t" style="left:312.80px;top:2330.40px;font-size:2.6px;color:#2a6fb0;font-weight:bold;">infratest dimap</div>
<div class="r" style="left:380.8px;top:2327.6px;width:6px;height:6px;background:#1c5fb8;"></div>
<div class="r" style="left:342.8px;top:2328.6px;width:14px;height:1px;background:#999;"></div>
<div class="r" style="left:345.8px;top:2330.6px;width:9px;height:1px;background:#999;"></div>
<svg style="position:absolute;left:322.40000000000003px;top:2271.0px" width="16.8" height="19.6" viewBox="0 0 80 100" preserveAspectRatio="none"><rect width="80" height="100" fill="#0c0c0c"/><g transform="translate(0,-7)">
<path d="M40,6 Q64,5 71,28 Q76,48 74,66 Q79,82 72,90 Q60,94 54,86 L28,86 Q18,94 8,90 Q2,78 6,62 Q4,38 12,22 Q22,7 40,6Z" fill="#553624"/>
<path d="M12,30 Q10,56 14,80 M66,34 Q72,56 68,82" stroke="#7a5236" stroke-width="3" fill="none"/>
<path d="M30,76 L52,76 L54,92 L40,98 L28,92Z" fill="#b27c5e"/></g>
<path d="M2,100 L4,88 Q20,80 30,84 L40,98 L50,84 Q60,80 76,88 L78,100Z" fill="#4e5054"/><path d="M28,84 Q40,96 52,84" stroke="#1a1a1a" stroke-width="2.5" fill="none"/><g transform="translate(0,-7)">
<ellipse cx="42" cy="51" rx="20.5" ry="30" fill="#c68d6c"/>
<path d="M21,46 Q22,22 44,18 Q60,20 64,40 Q56,26 42,27 Q30,30 21,46Z" fill="#553624"/>
<path d="M29,45 Q34,42 38,45 M46,45 Q51,42 56,45" stroke="#3a2218" stroke-width="1.8" fill="none"/>
<path d="M40,48 L38,58 L43,59" stroke="#a06a50" stroke-width="1.2" fill="none"/>
<path d="M33,68 Q42,64 51,68 Q42,75 33,68Z" fill="#8a3a3a"/>
<circle cx="63.5" cy="62" r="1.7" fill="#eee"/></g>
</svg>
<svg style="position:absolute;left:361.0px;top:2271.0px" width="17" height="19.6" viewBox="0 0 80 100" preserveAspectRatio="none"><rect width="80" height="100" fill="#0a0a0a"/>
<path d="M0,86 Q10,76 26,70 L40,80 L56,70 Q70,76 80,84 L80,100 L0,100Z" fill="#283477"/>
<path d="M22,70 L36,100 L46,100 L60,70 L52,66 L30,66Z" fill="#f0f0f0"/>
<path d="M37,84 L45,84 L48,100 L34,100Z" fill="#c81f2b"/><path d="M36,80 L46,80 L44,86 L38,86Z" fill="#b01a24"/>
<path d="M18,34 Q16,68 30,76 Q42,82 54,76 Q66,68 66,36 Q60,20 42,20 Q24,20 18,34Z" fill="#d8845a"/>
<path d="M14,42 Q10,14 34,6 Q58,2 66,16 Q72,28 66,42 Q62,22 46,20 Q28,18 20,30 Q16,36 14,42Z" fill="#d4b070"/>
<path d="M24,12 Q40,6 58,12" stroke="#e8cc90" stroke-width="3" fill="none"/>
<path d="M27,40 Q33,36 38,40 M46,40 Q52,36 58,40" stroke="#6a3422" stroke-width="1.8" fill="none"/>
<path d="M42,44 L40,54 L45,55" stroke="#b0603e" stroke-width="1.2" fill="none"/>
<path d="M34,62 Q43,59 51,62 Q43,66 34,62Z" fill="#8a4030"/>
</svg>
<div class="r" style="left:312.6px;top:2296.9px;width:20.4px;height:4.6px;background:#07348a;"></div>
<div class="r" style="left:367.3px;top:2296.9px;width:13.4px;height:4.6px;background:#a3002a;"></div>
<div class="r" style="left:335.8px;top:2298.5px;width:3px;height:1.5px;background:#444;"></div>
<div class="r" style="left:342.8px;top:2298.7000000000003px;width:12px;height:1px;background:#777;"></div>
<div class="r" style="left:359.3px;top:2298.5px;width:3px;height:1.5px;background:#444;"></div>
<div class="r" style="left:314.3px;top:2302.9500000000003px;width:18.7px;height:4.6px;background:#07348a;"></div>
<div class="r" style="left:367.3px;top:2302.9500000000003px;width:16.7px;height:4.6px;background:#a3002a;"></div>
<div class="r" style="left:335.8px;top:2304.55px;width:3px;height:1.5px;background:#444;"></div>
<div class="r" style="left:342.8px;top:2304.7500000000005px;width:12px;height:1px;background:#777;"></div>
<div class="r" style="left:359.3px;top:2304.55px;width:3px;height:1.5px;background:#444;"></div>
<div class="r" style="left:316.8px;top:2309.0px;width:16.2px;height:4.6px;background:#07348a;"></div>
<div class="r" style="left:367.3px;top:2309.0px;width:14.6px;height:4.6px;background:#a3002a;"></div>
<div class="r" style="left:335.8px;top:2310.6px;width:3px;height:1.5px;background:#444;"></div>
<div class="r" style="left:342.8px;top:2310.8px;width:12px;height:1px;background:#777;"></div>
<div class="r" style="left:359.3px;top:2310.6px;width:3px;height:1.5px;background:#444;"></div>
<div class="r" style="left:316.8px;top:2315.05px;width:16.2px;height:4.6px;background:#07348a;"></div>
<div class="r" style="left:367.3px;top:2315.05px;width:21.3px;height:4.6px;background:#a3002a;"></div>
<div class="r" style="left:335.8px;top:2316.65px;width:3px;height:1.5px;background:#444;"></div>
<div class="r" style="left:342.8px;top:2316.8500000000004px;width:12px;height:1px;background:#777;"></div>
<div class="r" style="left:359.3px;top:2316.65px;width:3px;height:1.5px;background:#444;"></div>
<div class="r" style="left:316.8px;top:2321.1px;width:16.2px;height:4.6px;background:#07348a;"></div>
<div class="r" style="left:367.3px;top:2321.1px;width:20.2px;height:4.6px;background:#a3002a;"></div>
<div class="r" style="left:335.8px;top:2322.7px;width:3px;height:1.5px;background:#444;"></div>
<div class="r" style="left:342.8px;top:2322.9px;width:12px;height:1px;background:#777;"></div>
<div class="r" style="left:359.3px;top:2322.7px;width:3px;height:1.5px;background:#444;"></div>
<div class="r" style="left:400.9px;top:2263.7px;width:26.6px;height:8.8px;background:#1a4f96;border-radius:1.8px;"></div>
<div class="t" style="left:403.70px;top:2265.48px;font-size:5.1px;color:#fff;font-weight:bold;letter-spacing:0.263px;">BILDER</div>
<div class="t" style="left:400.90px;top:2277.60px;font-size:7.8px;color:#555;letter-spacing:0.168px;">Infografik</div>
<div class="t" style="left:401.10px;top:2287.97px;font-size:11.5px;color:#14559b;">Wie die USA auf Harris</div>
<div class="t" style="left:401.10px;top:2301.27px;font-size:11.5px;color:#14559b;letter-spacing:0.146px;">blicken und wer sie wählte</div>
<div class="r" style="left:47px;top:2350.4px;width:81px;height:81px;background:#ececec;"></div>
<div class="t" style="left:50.00px;top:2353.86px;font-size:3px;color:#333;font-weight:bold;">US-Wahl 2024</div>
<div class="t" style="left:50.00px;top:2357.51px;font-size:4px;color:#333;">Überwiegend gute oder schlechte</div>
<div class="t" style="left:50.00px;top:2362.01px;font-size:4px;color:#333;">Meinung von...</div>
<div class="t" style="left:50.00px;top:2423.20px;font-size:2.6px;color:#2a6fb0;font-weight:bold;">infratest dimap</div>
<div class="r" style="left:118px;top:2420.4px;width:6px;height:6px;background:#1c5fb8;"></div>
<div class="r" style="left:80px;top:2421.4px;width:14px;height:1px;background:#999;"></div>
<div class="r" style="left:83px;top:2423.4px;width:9px;height:1px;background:#999;"></div>
<svg style="position:absolute;left:65.8px;top:2374.2000000000003px" width="16.2" height="19.1" viewBox="0 0 80 100" preserveAspectRatio="none"><rect width="80" height="100" fill="#0a0a0a"/>
<path d="M0,86 Q10,76 26,70 L40,80 L56,70 Q70,76 80,84 L80,100 L0,100Z" fill="#283477"/>
<path d="M22,70 L36,100 L46,100 L60,70 L52,66 L30,66Z" fill="#f0f0f0"/>
<path d="M37,84 L45,84 L48,100 L34,100Z" fill="#c81f2b"/><path d="M36,80 L46,80 L44,86 L38,86Z" fill="#b01a24"/>
<path d="M18,34 Q16,68 30,76 Q42,82 54,76 Q66,68 66,36 Q60,20 42,20 Q24,20 18,34Z" fill="#d8845a"/>
<path d="M14,42 Q10,14 34,6 Q58,2 66,16 Q72,28 66,42 Q62,22 46,20 Q28,18 20,30 Q16,36 14,42Z" fill="#d4b070"/>
<path d="M24,12 Q40,6 58,12" stroke="#e8cc90" stroke-width="3" fill="none"/>
<path d="M27,40 Q33,36 38,40 M46,40 Q52,36 58,40" stroke="#6a3422" stroke-width="1.8" fill="none"/>
<path d="M42,44 L40,54 L45,55" stroke="#b0603e" stroke-width="1.2" fill="none"/>
<path d="M34,62 Q43,59 51,62 Q43,66 34,62Z" fill="#8a4030"/>
</svg>
<svg style="position:absolute;left:93.3px;top:2374.2000000000003px" width="16.7" height="19.1" viewBox="0 0 80 100" preserveAspectRatio="none"><rect width="80" height="100" fill="#0c0c0c"/><g transform="translate(0,-7)">
<path d="M40,6 Q64,5 71,28 Q76,48 74,66 Q79,82 72,90 Q60,94 54,86 L28,86 Q18,94 8,90 Q2,78 6,62 Q4,38 12,22 Q22,7 40,6Z" fill="#553624"/>
<path d="M12,30 Q10,56 14,80 M66,34 Q72,56 68,82" stroke="#7a5236" stroke-width="3" fill="none"/>
<path d="M30,76 L52,76 L54,92 L40,98 L28,92Z" fill="#b27c5e"/></g>
<path d="M2,100 L4,88 Q20,80 30,84 L40,98 L50,84 Q60,80 76,88 L78,100Z" fill="#4e5054"/><path d="M28,84 Q40,96 52,84" stroke="#1a1a1a" stroke-width="2.5" fill="none"/><g transform="translate(0,-7)">
<ellipse cx="42" cy="51" rx="20.5" ry="30" fill="#c68d6c"/>
<path d="M21,46 Q22,22 44,18 Q60,20 64,40 Q56,26 42,27 Q30,30 21,46Z" fill="#553624"/>
<path d="M29,45 Q34,42 38,45 M46,45 Q51,42 56,45" stroke="#3a2218" stroke-width="1.8" fill="none"/>
<path d="M40,48 L38,58 L43,59" stroke="#a06a50" stroke-width="1.2" fill="none"/>
<path d="M33,68 Q42,64 51,68 Q42,75 33,68Z" fill="#8a3a3a"/>
<circle cx="63.5" cy="62" r="1.7" fill="#eee"/></g>
</svg>
<div class="r" style="left:49.8px;top:2400.4px;width:26.1px;height:5.6px;background:#2f4858;"></div>
<div class="r" style="left:51.2px;top:2407.4px;width:24.7px;height:5px;background:#2f4858;"></div>
<div class="r" style="left:99.4px;top:2400.4px;width:25.3px;height:5.6px;background:#cfcfcf;"></div>
<div class="r" style="left:99.4px;top:2407.4px;width:26.4px;height:5px;background:#cfcfcf;"></div>
<div class="r" style="left:78px;top:2402.4px;width:3px;height:1.5px;background:#444;"></div>
<div class="r" style="left:83px;top:2402.4px;width:6px;height:1px;background:#777;"></div>
<div class="r" style="left:92px;top:2402.4px;width:3px;height:1.5px;background:#444;"></div>
<div class="r" style="left:78px;top:2409.4px;width:3px;height:1.5px;background:#444;"></div>
<div class="r" style="left:83px;top:2409.4px;width:6px;height:1px;background:#777;"></div>
<div class="r" style="left:92px;top:2409.4px;width:3px;height:1.5px;background:#444;"></div>
<div class="r" style="left:138.1px;top:2356.5px;width:26.6px;height:8.8px;background:#1a4f96;border-radius:1.8px;"></div>
<div class="t" style="left:140.90px;top:2358.28px;font-size:5.1px;color:#fff;font-weight:bold;letter-spacing:0.263px;">BILDER</div>
<div class="t" style="left:138.10px;top:2370.40px;font-size:7.8px;color:#555;letter-spacing:0.168px;">Infografik</div>
<div class="t" style="left:138.30px;top:2380.77px;font-size:11.5px;color:#14559b;letter-spacing:0.138px;">Wie Trump und Harris im</div>
<div class="t" style="left:138.30px;top:2394.07px;font-size:11.5px;color:#14559b;letter-spacing:0.174px;">Vergleich bewertet werden</div>
<div class="r" style="left:309.8px;top:2350.4px;width:81px;height:81px;background:#ececec;"></div>
<div class="t" style="left:312.80px;top:2353.86px;font-size:3px;color:#333;font-weight:bold;">US-Wahl 2024</div>
<div class="t" style="left:312.80px;top:2357.51px;font-size:4px;color:#333;">Entwickelt sich das Land auf diesem</div>
<div class="t" style="left:312.80px;top:2362.01px;font-size:4px;color:#333;">Gebiet in die richtige oder</div>
<div class="t" style="left:312.80px;top:2366.51px;font-size:4px;color:#333;">die falsche Richtung?</div>
<div class="t" style="left:312.80px;top:2423.20px;font-size:2.6px;color:#2a6fb0;font-weight:bold;">infratest dimap</div>
<div class="r" style="left:380.8px;top:2420.4px;width:6px;height:6px;background:#1c5fb8;"></div>
<div class="r" style="left:342.8px;top:2421.4px;width:14px;height:1px;background:#999;"></div>
<div class="r" style="left:345.8px;top:2423.4px;width:9px;height:1px;background:#999;"></div>
<div class="r" style="left:327.8px;top:2382.4px;width:2.8000000000000007px;height:5.2px;background:#2f4858;"></div>
<div class="r" style="left:369.8px;top:2382.4px;width:18.6px;height:5.2px;background:#c8c8c8;"></div>
<div class="r" style="left:332.8px;top:2384.4px;width:3px;height:1.5px;background:#444;"></div>
<div class="r" style="left:342.8px;top:2384.6px;width:14px;height:1px;background:#777;"></div>
<div class="r" style="left:361.8px;top:2384.4px;width:3px;height:1.5px;background:#444;"></div>
<div class="r" style="left:325.0px;top:2389.2000000000003px;width:5.600000000000001px;height:5.2px;background:#2f4858;"></div>
<div class="r" style="left:369.8px;top:2389.2000000000003px;width:18px;height:5.2px;background:#c8c8c8;"></div>
<div class="r" style="left:332.8px;top:2391.2000000000003px;width:3px;height:1.5px;background:#444;"></div>
<div class="r" style="left:342.8px;top:2391.4px;width:14px;height:1px;background:#777;"></div>
<div class="r" style="left:361.8px;top:2391.2000000000003px;width:3px;height:1.5px;background:#444;"></div>
<div class="r" style="left:326.40000000000003px;top:2396.0px;width:4.199999999999999px;height:5.2px;background:#2f4858;"></div>
<div class="r" style="left:369.8px;top:2396.0px;width:16.3px;height:5.2px;background:#c8c8c8;"></div>
<div class="r" style="left:332.8px;top:2398.0px;width:3px;height:1.5px;background:#444;"></div>
<div class="r" style="left:342.8px;top:2398.2px;width:14px;height:1px;background:#777;"></div>
<div class="r" style="left:361.8px;top:2398.0px;width:3px;height:1.5px;background:#444;"></div>
<div class="r" style="left:323.6px;top:2402.8px;width:7.0px;height:5.2px;background:#2f4858;"></div>
<div class="r" style="left:369.8px;top:2402.8px;width:15.2px;height:5.2px;background:#c8c8c8;"></div>
<div class="r" style="left:332.8px;top:2404.8px;width:3px;height:1.5px;background:#444;"></div>
<div class="r" style="left:342.8px;top:2405.0px;width:14px;height:1px;background:#777;"></div>
<div class="r" style="left:361.8px;top:2404.8px;width:3px;height:1.5px;background:#444;"></div>
<div class="r" style="left:325.6px;top:2409.6px;width:5.0px;height:5.2px;background:#2f4858;"></div>
<div class="r" style="left:369.8px;top:2409.6px;width:14px;height:5.2px;background:#c8c8c8;"></div>
<div class="r" style="left:332.8px;top:2411.6px;width:3px;height:1.5px;background:#444;"></div>
<div class="r" style="left:342.8px;top:2411.7999999999997px;width:14px;height:1px;background:#777;"></div>
<div class="r" style="left:361.8px;top:2411.6px;width:3px;height:1.5px;background:#444;"></div>
<div class="r" style="left:400.9px;top:2356.5px;width:26.6px;height:8.8px;background:#1a4f96;border-radius:1.8px;"></div>
<div class="t" style="left:403.70px;top:2358.28px;font-size:5.1px;color:#fff;font-weight:bold;letter-spacing:0.263px;">BILDER</div>
<div class="t" style="left:400.90px;top:2370.40px;font-size:7.8px;color:#555;letter-spacing:0.168px;">Infografik</div>
<div class="t" style="left:401.10px;top:2380.77px;font-size:11.5px;color:#14559b;letter-spacing:-0.023px;">Was die USA bewegt und</div>
<div class="t" style="left:401.10px;top:2394.07px;font-size:11.5px;color:#14559b;letter-spacing:0.211px;">die Stimmung prägt</div>
<div class="t" style="left:132.40px;top:2476.54px;font-size:18.5px;color:#14559b;letter-spacing:-0.589px;">WAHL DES REPRÄSENTANTENHAUSES</div>
<div class="t" style="left:218.50px;top:2676.64px;font-size:18.5px;color:#14559b;letter-spacing:-0.746px;">WAHL DES SENATS</div>
<div class="t" style="left:131.30px;top:2867.60px;font-size:13px;color:#14559b;letter-spacing:-0.285px;">Ergebnisse der Senatswahl in den Bundesstaaten</div>
<div class="t" style="left:131.40px;top:2891.12px;font-size:9.9px;color:#383838;letter-spacing:-0.065px;-webkit-text-stroke:0.1px #383838;">Etwa ein Drittel der 100 Senatssitze wird alle zwei Jahre neu gewählt. Jeder</div>
<div class="t" style="left:131.40px;top:2903.82px;font-size:9.9px;color:#383838;letter-spacing:-0.061px;-webkit-text-stroke:0.1px #383838;">Bundesstaat entsendet zwei Senatorinnen oder Senatoren in diese</div>
<div class="t" style="left:131.40px;top:2916.52px;font-size:9.9px;color:#383838;letter-spacing:-0.050px;-webkit-text-stroke:0.1px #383838;">Kongresskammer. Die Mehrheitsverhältnisse im Senat spielen für die</div>
<div class="t" style="left:131.40px;top:2929.22px;font-size:9.9px;color:#383838;letter-spacing:-0.062px;-webkit-text-stroke:0.1px #383838;">jeweilige Präsidentschaft eine große Rolle bei vielen</div>
<div class="t" style="left:131.40px;top:2941.92px;font-size:9.9px;color:#383838;letter-spacing:-0.138px;-webkit-text-stroke:0.1px #383838;">Gesetzgebungsvorhaben. Wie sehen die Ergebnisse der Wahlen um die</div>
<div class="t" style="left:131.40px;top:2954.62px;font-size:9.9px;color:#383838;letter-spacing:-0.127px;-webkit-text-stroke:0.1px #383838;">Senatssitze 2024 in den Bundesstaaten aus?</div>
<div class="t" style="left:195.45px;top:3149.84px;font-size:18.5px;color:#14559b;letter-spacing:-0.271px;">WAHLEN IM RÜCKBLICK</div>
<div class="r" style="left:47px;top:3343.5px;width:506px;height:1px;background:#e8e8e8;"></div>
<div class="r" style="left:47px;top:3364.3px;width:506px;height:1px;background:#e8e8e8;"></div>
<div class="r" style="left:47px;top:3385.1px;width:506px;height:1px;background:#e8e8e8;"></div>
<div class="r" style="left:47px;top:3405.9px;width:506px;height:1px;background:#e8e8e8;"></div>
<div class="r" style="left:47px;top:3426.7px;width:506px;height:1px;background:#e8e8e8;"></div>
<div class="t" style="left:57.10px;top:3349.63px;font-size:9.3px;color:#222;font-weight:bold;letter-spacing:-0.916px;">Service</div>
<svg style="position:absolute;left:538.5px;top:3351.5px" width="10" height="6" viewBox="0 0 10 6"><path d="M0.6,0.6 L5,5 L9.4,0.6" stroke="#666" stroke-width="1" fill="none"/></svg>
<div class="t" style="left:57.10px;top:3370.43px;font-size:9.3px;color:#222;font-weight:bold;letter-spacing:-0.709px;">tagesschau.de</div>
<svg style="position:absolute;left:538.5px;top:3372.3px" width="10" height="6" viewBox="0 0 10 6"><path d="M0.6,0.6 L5,5 L9.4,0.6" stroke="#666" stroke-width="1" fill="none"/></svg>
<div class="t" style="left:57.10px;top:3391.23px;font-size:9.3px;color:#222;font-weight:bold;letter-spacing:-0.706px;">ARD Angebote</div>
<svg style="position:absolute;left:538.5px;top:3393.1px" width="10" height="6" viewBox="0 0 10 6"><path d="M0.6,0.6 L5,5 L9.4,0.6" stroke="#666" stroke-width="1" fill="none"/></svg>
<div class="t" style="left:57.10px;top:3412.03px;font-size:9.3px;color:#222;font-weight:bold;letter-spacing:-0.514px;">Rundfunkanstalten</div>
<svg style="position:absolute;left:538.5px;top:3413.9px" width="10" height="6" viewBox="0 0 10 6"><path d="M0.6,0.6 L5,5 L9.4,0.6" stroke="#666" stroke-width="1" fill="none"/></svg>
<div class="t" style="left:58.30px;top:3438.26px;font-size:9.5px;color:#333;letter-spacing:-0.423px;">Impressum</div>
<div class="t" style="left:58.30px;top:3459.76px;font-size:9.5px;color:#333;letter-spacing:-0.573px;">So erreichen Sie uns</div>
<div class="t" style="left:58.30px;top:3481.26px;font-size:9.5px;color:#333;letter-spacing:-0.306px;">Datenschutzerklärung</div>
<div class="t" style="left:58.30px;top:3502.76px;font-size:9.5px;color:#333;letter-spacing:-0.327px;">Bildrechte</div>
<div class="t" style="left:468.90px;top:3576.44px;font-size:6.8px;color:#333;letter-spacing:-0.399px;">Wir sind deins.</div>
<div class="t" style="left:510.20px;top:3572.73px;font-size:12.6px;color:#2a2a2a;font-weight:bold;letter-spacing:-1.949px;">ARD</div>
<svg style="position:absolute;left:534px;top:3568px" width="20" height="20" viewBox="0 0 20 20"><path d="M5.2,4.2 A7.9,7.9 0 1 1 4.6,15.6" stroke="#2a2a2a" stroke-width="2.4" fill="none"/><path d="M5.5,8.4 L11.8,4.6 L11.8,15.6 L9,15.6 L9,8.8 L6.6,10.2Z" fill="#2a2a2a"/></svg>
<div class="t" style="left:47.00px;top:3597.64px;font-size:6.8px;color:#8a8a8a;letter-spacing:-0.407px;">© ARD-aktuell / tagesschau.de</div>
</body></html>
